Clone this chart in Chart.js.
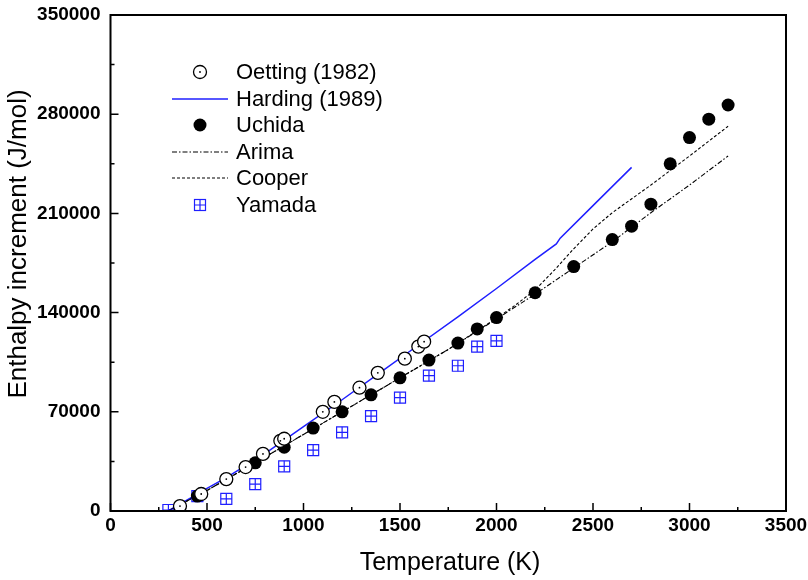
<!DOCTYPE html>
<html>
<head>
<meta charset="utf-8">
<script src="https://cdn.jsdelivr.net/npm/chart.js@4.4.1/dist/chart.umd.min.js"></script>
<style>
  html, body { margin: 0; padding: 0; background: #ffffff; }
  #wrap { width: 808px; height: 580px; position: relative; }
</style>
</head>
<body>
<div id="wrap"><canvas id="chart" width="808" height="580"></canvas></div>
<script>
// Data: [temperature K, enthalpy J/mol]
const oettingT = [360, 470, 600, 700, 790, 880, 900, 1100, 1160, 1290, 1385, 1525, 1595, 1625];
const oettingH = [3500, 12000, 22500, 31000, 40300, 49500, 51000, 70000, 77000, 87000, 97500, 107500, 116000, 119500];

const hardingT = [298, 400, 500, 600, 800, 1000, 1200, 1400, 1600, 1800, 2000, 2200, 2310, 2330, 2500, 2700];
const hardingH = [0, 8000, 16000, 23500, 40500, 59500, 78500, 98000, 117500, 137000, 157000, 177500, 188500, 192500, 215500, 242500];

const uchidaT = [450, 750, 900, 1050, 1200, 1350, 1500, 1650, 1800, 1900, 2000, 2200, 2400, 2600, 2700, 2800, 2900, 3000, 3100, 3200];
const uchidaH = [10500, 34000, 45000, 58500, 70000, 82000, 94000, 106500, 118500, 128500, 136500, 154000, 172500, 191500, 201000, 216500, 245000, 263500, 276500, 286500];

const arimaT = [298, 500, 750, 1000, 1250, 1500, 1750, 2000, 2200, 2400, 2600, 2800, 3000, 3200];
const arimaH = [0, 14500, 34000, 54000, 74000, 94000, 114000, 135500, 153000, 171500, 190000, 210500, 230000, 250500];

const cooperT = [298, 500, 750, 1000, 1250, 1500, 1750, 2000, 2100, 2200, 2300, 2400, 2500, 2600, 2800, 3000, 3200];
const cooperH = [0, 14500, 34000, 54000, 74000, 94000, 114000, 136000, 145500, 156000, 170000, 185000, 199000, 210500, 230000, 250500, 271500];

const yamadaT = [300, 450, 600, 750, 900, 1050, 1200, 1350, 1500, 1650, 1800, 1900, 2000];
const yamadaH = [700, 10500, 8500, 19000, 31500, 43000, 55500, 67000, 80000, 95500, 102500, 116000, 120000];

const xTicks = [0, 500, 1000, 1500, 2000, 2500, 3000, 3500];
const yTicks = [0, 70000, 140000, 210000, 280000, 350000];

const BLUE = '#1f1fff';
const FONT = '"Liberation Sans", Arial, sans-serif';

function toPoints(xs, ys) {
  return xs.map(function(x, i) { return { x: x, y: ys[i] }; });
}

// Frame, inward ticks, axis titles and the legend
const framePlugin = {
  id: 'frame',
  afterDraw(chart) {
    const ctx = chart.ctx;
    const a = chart.chartArea;
    const xs = chart.scales.x;
    const ys = chart.scales.y;
    ctx.save();
    ctx.strokeStyle = '#000000';
    ctx.lineWidth = 2;
    ctx.strokeRect(a.left, a.top, a.right - a.left, a.bottom - a.top);

    ctx.lineWidth = 1.5;
    ctx.beginPath();
    xTicks.forEach(function(v, i) {
      const px = xs.getPixelForValue(v);
      ctx.moveTo(px, a.bottom); ctx.lineTo(px, a.bottom - 8);
      if (i < xTicks.length - 1) {
        const mx = xs.getPixelForValue(v + 250);
        ctx.moveTo(mx, a.bottom); ctx.lineTo(mx, a.bottom - 4);
      }
    });
    yTicks.forEach(function(v, i) {
      const py = ys.getPixelForValue(v);
      ctx.moveTo(a.left, py); ctx.lineTo(a.left + 8, py);
      if (i < yTicks.length - 1) {
        const my = ys.getPixelForValue(v + 35000);
        ctx.moveTo(a.left, my); ctx.lineTo(a.left + 4, my);
      }
    });
    ctx.stroke();

    // axis titles
    ctx.fillStyle = '#000000';
    ctx.textAlign = 'center';
    ctx.textBaseline = 'middle';
    ctx.font = '25px ' + FONT;
    ctx.fillText('Temperature (K)', 450, 563);
    ctx.save();
    ctx.translate(19, 244);
    ctx.rotate(-Math.PI / 2);
    ctx.font = '26px ' + FONT;
    ctx.fillText('Enthalpy increment (J/mol)', 0, 0);
    ctx.restore();

    // legend
    const items = [
      { label: 'Oetting (1982)', open: true },
      { label: 'Harding (1989)', line: BLUE, dash: [], width: 1.5 },
      { label: 'Uchida', dot: true },
      { label: 'Arima', line: '#000000', dash: [5, 2, 1.5, 2], width: 1.1 },
      { label: 'Cooper', line: '#000000', dash: [3, 2], width: 1.1 },
      { label: 'Yamada', square: true }
    ];
    ctx.font = '22px ' + FONT;
    ctx.textAlign = 'left';
    items.forEach(function(it, i) {
      const y = Math.round(72 + i * 26.6);
      if (it.open) {
        ctx.beginPath();
        ctx.arc(200, y, 6.5, 0, Math.PI * 2);
        ctx.fillStyle = '#ffffff';
        ctx.fill();
        ctx.lineWidth = 1.3;
        ctx.strokeStyle = '#000000';
        ctx.stroke();
        ctx.beginPath();
        ctx.arc(200, y, 0.9, 0, Math.PI * 2);
        ctx.fillStyle = '#000000';
        ctx.fill();
      } else if (it.dot) {
        ctx.beginPath();
        ctx.arc(200, y, 6.5, 0, Math.PI * 2);
        ctx.fillStyle = '#000000';
        ctx.fill();
      } else if (it.square) {
        ctx.strokeStyle = BLUE;
        ctx.lineWidth = 1.2;
        ctx.strokeRect(194.5, y - 5.5, 11, 11);
        ctx.beginPath();
        ctx.moveTo(200, y - 5.5); ctx.lineTo(200, y + 5.5);
        ctx.moveTo(194.5, y); ctx.lineTo(205.5, y);
        ctx.stroke();
      } else {
        ctx.beginPath();
        ctx.setLineDash(it.dash);
        ctx.strokeStyle = it.line;
        ctx.lineWidth = it.width;
        ctx.moveTo(172, y); ctx.lineTo(228, y);
        ctx.stroke();
        ctx.setLineDash([]);
      }
      ctx.fillStyle = '#000000';
      ctx.fillText(it.label, 236, y + 1);
    });
    ctx.restore();
  }
};

const ctx = document.getElementById('chart').getContext('2d');
new Chart(ctx, {
  type: 'scatter',
  data: {
    datasets: [
      {
        label: 'Harding (1989)',
        data: toPoints(hardingT, hardingH),
        showLine: true,
        borderColor: BLUE,
        borderWidth: 1.5,
        pointRadius: 0,
        order: 8
      },
      {
        label: 'Arima',
        data: toPoints(arimaT, arimaH),
        showLine: true,
        borderColor: '#000000',
        borderWidth: 1.1,
        borderDash: [5, 2, 1.5, 2],
        pointRadius: 0,
        order: 7
      },
      {
        label: 'Cooper',
        data: toPoints(cooperT, cooperH),
        showLine: true,
        borderColor: '#000000',
        borderWidth: 1.1,
        borderDash: [3, 2],
        pointRadius: 0,
        order: 6
      },
      {
        label: 'Yamada',
        data: toPoints(yamadaT, yamadaH),
        pointStyle: 'rect',
        pointRadius: 7.8,
        backgroundColor: 'rgba(255,255,255,0)',
        borderColor: BLUE,
        borderWidth: 1.2,
        order: 5
      },
      {
        label: 'Yamada cross',
        data: toPoints(yamadaT, yamadaH),
        pointStyle: 'cross',
        pointRadius: 5.5,
        borderColor: BLUE,
        borderWidth: 1.2,
        order: 4
      },
      {
        label: 'Uchida',
        data: toPoints(uchidaT, uchidaH),
        pointStyle: 'circle',
        pointRadius: 6.5,
        backgroundColor: '#000000',
        borderColor: '#000000',
        borderWidth: 0,
        order: 3
      },
      {
        label: 'Oetting (1982)',
        data: toPoints(oettingT, oettingH),
        pointStyle: 'circle',
        pointRadius: 6.5,
        backgroundColor: '#ffffff',
        borderColor: '#000000',
        borderWidth: 1.3,
        order: 2
      },
      {
        label: 'Oetting centre',
        data: toPoints(oettingT, oettingH),
        pointStyle: 'circle',
        pointRadius: 0.9,
        backgroundColor: '#000000',
        borderWidth: 0,
        order: 1
      }
    ]
  },
  options: {
    responsive: false,
    animation: false,
    events: [],
    layout: { padding: { top: 15, right: 22, left: 0, bottom: 0 } },
    plugins: {
      legend: { display: false },
      tooltip: { enabled: false }
    },
    scales: {
      x: {
        type: 'linear',
        min: 0,
        max: 3500,
        afterBuildTicks: function(scale) {
          scale.ticks = xTicks.map(function(v) { return { value: v }; });
        },
        afterFit: function(scale) {
          scale.height = 69;
          scale.paddingLeft = 0;
          scale.paddingRight = 0;
        },
        grid: { display: false, drawTicks: false },
        border: { display: false },
        ticks: {
          padding: 3,
          color: '#000000',
          maxRotation: 0,
          callback: function(v) { return String(v); },
          font: { family: FONT, size: 19, weight: 'bold' }
        }
      },
      y: {
        type: 'linear',
        min: 0,
        max: 350000,
        afterBuildTicks: function(scale) {
          scale.ticks = yTicks.map(function(v) { return { value: v }; });
        },
        afterFit: function(scale) {
          scale.width = 110.5;
          scale.paddingTop = 0;
          scale.paddingBottom = 0;
        },
        grid: { display: false, drawTicks: false },
        border: { display: false },
        ticks: {
          padding: 10,
          color: '#000000',
          callback: function(v) { return String(v); },
          font: { family: FONT, size: 19, weight: 'bold' }
        }
      }
    }
  },
  plugins: [framePlugin]
});
</script>
</body>
</html>
